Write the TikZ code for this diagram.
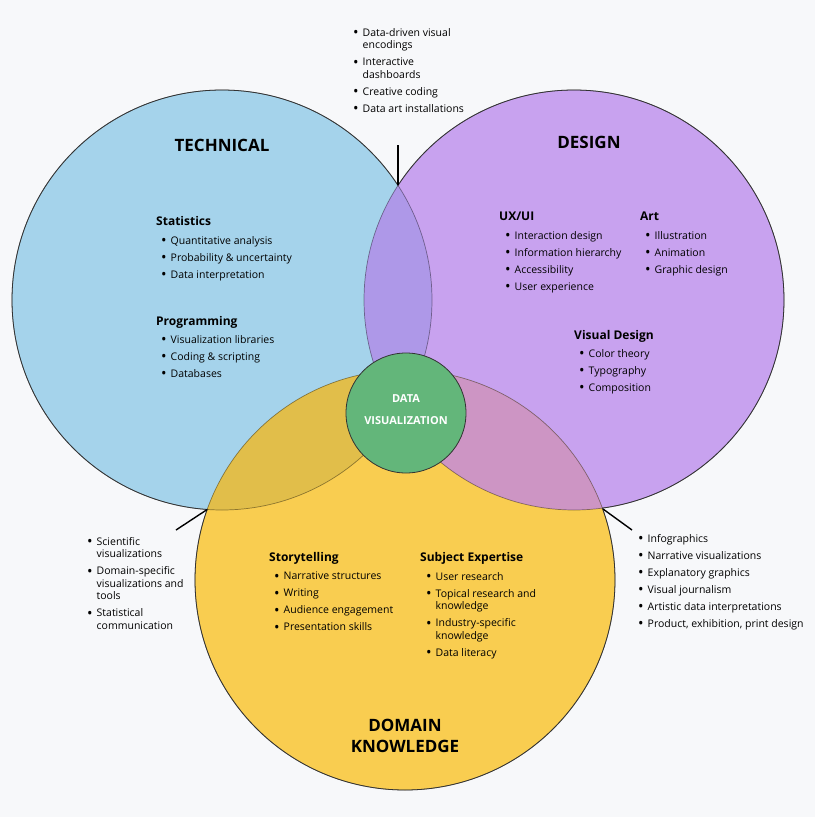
\documentclass[tikz,border=0pt]{standalone}
\usepackage{fontspec}
\setmainfont{Open Sans}
\usetikzlibrary{positioning}

\definecolor{bgcol}{HTML}{F7F8FA}
\definecolor{techblue}{HTML}{A5D3EB}
\definecolor{designpurple}{HTML}{C8A2EF}
\definecolor{domainyellow}{HTML}{F9CD50}
\definecolor{techdesign}{HTML}{AE98E8}
\definecolor{techdomain}{HTML}{E1BE4A}
\definecolor{designdomain}{HTML}{CD95C4}
\definecolor{vizgreen}{HTML}{63B67A}

\newcommand{\bul}{\makebox[9.5pt][l]{\raisebox{-1.4pt}{\scalebox{1.4}{\textbullet}}}}
\newcommand{\ind}{\hspace*{9.5pt}}

\tikzset{
  venn/.style={radius=210pt},
  rim/.style={draw=black!80, line width=0.8pt},
  innerrim/.style={draw=black, draw opacity=0.4, line width=0.7pt},
  pointer/.style={draw=black, line width=1.4pt},
  title/.style={font=\bfseries\fontsize{17}{21}\selectfont, align=center, inner sep=0},
  head/.style={font=\bfseries\fontsize{12}{14}\selectfont, anchor=base west, inner sep=0},
  items/.style={font=\fontsize{10.5}{12.5}\selectfont, align=left, anchor=north west, inner sep=0},
}

\begin{document}
\begin{tikzpicture}[x=1pt,y=-1pt]
  %%%%% background %%%%%
  \fill[bgcol] (0,0) rectangle (815,817);
  \useasboundingbox (0,0) rectangle (815,817);

  \coordinate (tech) at (222,300);
  \coordinate (design) at (574,300);
  \coordinate (domain) at (405,580);

  %%%%% circles %%%%%
  \fill[techblue] (tech) circle [venn];
  \fill[designpurple] (design) circle [venn];
  \fill[domainyellow] (domain) circle [venn];
  \begin{scope}
    \clip (tech) circle [venn];
    \fill[techdesign] (design) circle [venn];
    \fill[techdomain] (domain) circle [venn];
  \end{scope}
  \begin{scope}
    \clip (design) circle [venn];
    \fill[designdomain] (domain) circle [venn];
  \end{scope}

  \path[innerrim] (tech) circle [venn];
  \path[innerrim] (design) circle [venn];
  \path[innerrim] (domain) circle [venn];

  % outer rims only
  \begin{scope}
    \clip (design) circle [venn] (0,0) -- (815,0) -- (815,817) -- (0,817) -- cycle;
    \clip (domain) circle [venn] (0,0) -- (815,0) -- (815,817) -- (0,817) -- cycle;
    \path[rim] (tech) circle [venn];
  \end{scope}
  \begin{scope}
    \clip (tech) circle [venn] (0,0) -- (815,0) -- (815,817) -- (0,817) -- cycle;
    \clip (domain) circle [venn] (0,0) -- (815,0) -- (815,817) -- (0,817) -- cycle;
    \path[rim] (design) circle [venn];
  \end{scope}
  \begin{scope}
    \clip (tech) circle [venn] (0,0) -- (815,0) -- (815,817) -- (0,817) -- cycle;
    \clip (design) circle [venn] (0,0) -- (815,0) -- (815,817) -- (0,817) -- cycle;
    \path[rim] (domain) circle [venn];
  \end{scope}

  %%%%% centre %%%%%
  \node[circle, minimum size=120pt, fill=vizgreen, rim] (viz) at (406,413) {};
  \node[font=\bfseries\fontsize{11}{22}\selectfont, text=white, align=center, inner sep=0]
    (vizlabel) at (406,410) {DATA\\VISUALIZATION};

  %%%%% pointers %%%%%
  \coordinate (topmeet) at (398,185.4);
  \coordinate (toptip) at (398,145);
  \coordinate (leftmeet) at (207.2,509.5);
  \coordinate (lefttip) at (176,530);
  \coordinate (rightmeet) at (603,509);
  \coordinate (righttip) at (632,530);
  \draw[pointer] (topmeet) -- (toptip);
  \draw[pointer] (leftmeet) -- (lefttip);
  \draw[pointer] (rightmeet) -- (righttip);

  %%%%% titles %%%%%
  \node[title] (techtitle) at (222,145) {TECHNICAL};
  \node[title] (designtitle) at (589,142) {DESIGN};
  \node[title] (domaintitle) at (405,736) {DOMAIN\\KNOWLEDGE};

  %%%%% technical %%%%%
  \node[head] (stats) at (156,225) {Statistics};
  \node[items] (statslist) at (161,236) {\bul Quantitative analysis\\[4.5pt]
    \bul Probability \& uncertainty\\[4.5pt]
    \bul Data interpretation};
  \node[head] (prog) at (156,325) {Programming};
  \node[items] (proglist) at (161,335) {\bul Visualization libraries\\[4.5pt]
    \bul Coding \& scripting\\[4.5pt]
    \bul Databases};

  %%%%% design %%%%%
  \node[head] (uxui) at (499,220) {UX/UI};
  \node[items] (uxuilist) at (505,231) {\bul Interaction design\\[4.5pt]
    \bul Information hierarchy\\[4.5pt]
    \bul Accessibility\\[4.5pt]
    \bul User experience};
  \node[head] (art) at (640,220) {Art};
  \node[items] (artlist) at (645,231) {\bul Illustration\\[4.5pt]
    \bul Animation\\[4.5pt]
    \bul Graphic design};
  \node[head] (visdes) at (574,339) {Visual Design};
  \node[items] (visdeslist) at (579,349) {\bul Color theory\\[4.5pt]
    \bul Typography\\[4.5pt]
    \bul Composition};

  %%%%% domain %%%%%
  \node[head] (story) at (269,561) {Storytelling};
  \node[items] (storylist) at (274,572) {\bul Narrative structures\\[4.5pt]
    \bul Writing\\[4.5pt]
    \bul Audience engagement\\[4.5pt]
    \bul Presentation skills};
  \node[head] (subject) at (420,561) {Subject Expertise};
  \node[items] (subjectlist) at (426,572) {\bul User research\\[4.5pt]
    \bul Topical research and\\ \ind knowledge\\[4.5pt]
    \bul Industry-specific\\ \ind knowledge\\[4.5pt]
    \bul Data literacy};

  %%%%% overlaps %%%%%
  \node[items] (techdesignlist) at (353,28) {\bul Data-driven visual\\ \ind encodings\\[4.5pt]
    \bul Interactive\\ \ind dashboards\\[4.5pt]
    \bul Creative coding\\[4.5pt]
    \bul Data art installations};
  \node[items] (techdomainlist) at (87,537) {\bul Scientific\\ \ind visualizations\\[4.5pt]
    \bul Domain-specific\\ \ind visualizations and\\ \ind tools\\[4.5pt]
    \bul Statistical\\ \ind communication};
  \node[items] (designdomainlist) at (638,534) {\bul Infographics\\[4.5pt]
    \bul Narrative visualizations\\[4.5pt]
    \bul Explanatory graphics\\[4.5pt]
    \bul Visual journalism\\[4.5pt]
    \bul Artistic data interpretations\\[4.5pt]
    \bul Product, exhibition, print design};
\end{tikzpicture}
\end{document}
